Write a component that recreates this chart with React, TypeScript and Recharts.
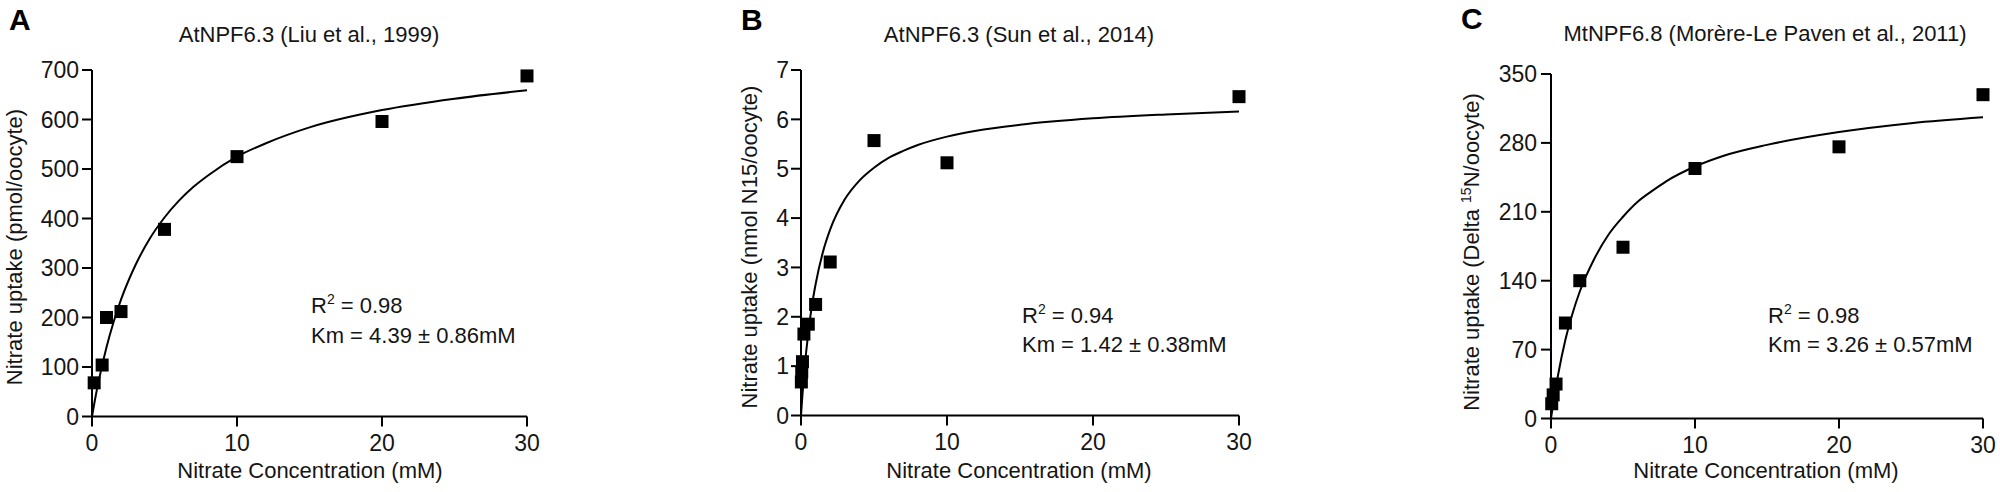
import React from 'react';
import { ComposedChart, Line, Scatter, XAxis, YAxis } from 'recharts';

// ---------- Data ----------
const xTicks = [0, 10, 20, 30];

// Panel A: AtNPF6.3 (Liu et al., 1999)
const aTicksY = [0, 100, 200, 300, 400, 500, 600, 700];
const aPoints = [
  { x: 0.15, y: 68 },
  { x: 0.7, y: 104 },
  { x: 1, y: 200 },
  { x: 2, y: 212 },
  { x: 5, y: 378 },
  { x: 10, y: 525 },
  { x: 20, y: 596 },
  { x: 30, y: 688 },
];
const aCurve = [
  { x: 0, y: 0 }, { x: 0.25, y: 41 }, { x: 0.5, y: 77 }, { x: 1, y: 140 },
  { x: 1.5, y: 192 }, { x: 2, y: 236 }, { x: 3, y: 306 }, { x: 4, y: 360 },
  { x: 5, y: 402 }, { x: 6, y: 436 }, { x: 7, y: 464 }, { x: 8, y: 487 },
  { x: 10, y: 525 }, { x: 12, y: 552 }, { x: 15, y: 584 }, { x: 20, y: 619 },
  { x: 25, y: 642 }, { x: 30, y: 659 },
];

// Panel B: AtNPF6.3 (Sun et al., 2014)
const bTicksY = [0, 1, 2, 3, 4, 5, 6, 7];
const bPoints = [
  { x: 0.025, y: 0.68 },
  { x: 0.05, y: 0.88 },
  { x: 0.1, y: 1.09 },
  { x: 0.2, y: 1.65 },
  { x: 0.5, y: 1.85 },
  { x: 1, y: 2.25 },
  { x: 2, y: 3.11 },
  { x: 5, y: 5.57 },
  { x: 10, y: 5.12 },
  { x: 30, y: 6.46 },
];
const bCurve = [
  { x: 0, y: 0 }, { x: 0.1, y: 0.42 }, { x: 0.25, y: 0.97 }, { x: 0.5, y: 1.68 },
  { x: 0.75, y: 2.23 }, { x: 1, y: 2.66 }, { x: 1.5, y: 3.31 }, { x: 2, y: 3.77 },
  { x: 3, y: 4.38 }, { x: 4, y: 4.76 }, { x: 5, y: 5.02 }, { x: 6, y: 5.22 },
  { x: 7, y: 5.36 }, { x: 8, y: 5.48 }, { x: 10, y: 5.65 }, { x: 12, y: 5.77 },
  { x: 15, y: 5.89 }, { x: 20, y: 6.02 }, { x: 25, y: 6.1 }, { x: 30, y: 6.16 },
];

// Panel C: MtNPF6.8 (Morère-Le Paven et al., 2011)
const cTicksY = [0, 70, 140, 210, 280, 350];
const cPoints = [
  { x: 0.05, y: 15 },
  { x: 0.15, y: 24 },
  { x: 0.35, y: 35 },
  { x: 1, y: 97 },
  { x: 2, y: 140 },
  { x: 5, y: 174 },
  { x: 10, y: 254 },
  { x: 20, y: 276 },
  { x: 30, y: 329 },
];
const cCurve = [
  { x: 0, y: 0 }, { x: 0.25, y: 24 }, { x: 0.5, y: 45 }, { x: 1, y: 80 },
  { x: 1.5, y: 107 }, { x: 2, y: 129 }, { x: 3, y: 162 }, { x: 4, y: 187 },
  { x: 5, y: 205 }, { x: 6, y: 220 }, { x: 7, y: 231 }, { x: 8, y: 241 },
  { x: 10, y: 256 }, { x: 12, y: 267 }, { x: 15, y: 278 }, { x: 20, y: 291 },
  { x: 25, y: 300 }, { x: 30, y: 306 },
];

// ---------- Styling ----------
const FONT = '"Liberation Sans", Arial, Helvetica, sans-serif';
const TEXT = '#151515';
const INK = '#000';

const SquareShape = (props: any) => {
  const { cx, cy } = props;
  if (cx == null || cy == null) return null;
  return <rect x={cx - 6.5} y={cy - 6.5} width={13} height={13} fill={INK} />;
};

type PanelProps = {
  left: number;
  width: number;
  margin: { top: number; right: number; bottom: number; left: number };
  yTicks: number[];
  yMax: number;
  points: { x: number; y: number }[];
  curve: { x: number; y: number }[];
  yTickMargin: number;
};

const Panel = ({ left, width, margin, yTicks, yMax, points, curve, yTickMargin }: PanelProps) => (
  <div style={{ position: 'absolute', left, top: 0, width, height: 492 }}>
    <ComposedChart width={width} height={492} margin={margin}>
      <XAxis
        type="number"
        dataKey="x"
        domain={[0, 30]}
        ticks={xTicks}
        interval={0}
        height={60}
        tickSize={10}
        tickMargin={8}
        axisLine={{ stroke: INK, strokeWidth: 2 }}
        tickLine={{ stroke: INK, strokeWidth: 2 }}
        tick={{ fill: TEXT, fontSize: 23, fontFamily: FONT }}
      />
      <YAxis
        type="number"
        dataKey="y"
        domain={[0, yMax]}
        ticks={yTicks}
        interval={0}
        width={60}
        tickSize={10}
        tickMargin={yTickMargin}
        axisLine={{ stroke: INK, strokeWidth: 2 }}
        tickLine={{ stroke: INK, strokeWidth: 2 }}
        tick={{ fill: TEXT, fontSize: 23, fontFamily: FONT }}
      />
      <Line
        data={curve}
        dataKey="y"
        type="monotone"
        stroke={INK}
        strokeWidth={2}
        dot={false}
        activeDot={false}
        isAnimationActive={false}
      />
      <Scatter data={points} dataKey="y" shape={SquareShape} isAnimationActive={false} />
    </ComposedChart>
  </div>
);

const textStyle = { fontFamily: FONT, fill: TEXT } as const;

const Overlay = () => (
  <svg
    width={2000}
    height={492}
    style={{ position: 'absolute', left: 0, top: 0, pointerEvents: 'none' }}
  >
    {/* panel letters */}
    <text x={9} y={30} fontSize={30} fontWeight="bold" style={{ ...textStyle, fill: '#000' }}>A</text>
    <text x={741} y={30} fontSize={30} fontWeight="bold" style={{ ...textStyle, fill: '#000' }}>B</text>
    <text x={1461} y={29} fontSize={30} fontWeight="bold" style={{ ...textStyle, fill: '#000' }}>C</text>

    {/* titles */}
    <text x={309} y={42} fontSize={22} textAnchor="middle" style={textStyle}>AtNPF6.3 (Liu et al., 1999)</text>
    <text x={1019} y={42} fontSize={22} textAnchor="middle" style={textStyle}>AtNPF6.3 (Sun et al., 2014)</text>
    <text x={1765} y={41} fontSize={22} textAnchor="middle" style={textStyle}>MtNPF6.8 (Morère-Le Paven et al., 2011)</text>

    {/* x-axis titles */}
    <text x={310} y={478} fontSize={22} textAnchor="middle" style={textStyle}>Nitrate Concentration (mM)</text>
    <text x={1019} y={478} fontSize={22} textAnchor="middle" style={textStyle}>Nitrate Concentration (mM)</text>
    <text x={1766} y={478} fontSize={22} textAnchor="middle" style={textStyle}>Nitrate Concentration (mM)</text>

    {/* y-axis titles */}
    <text transform="translate(22,247) rotate(-90)" fontSize={22} textAnchor="middle" style={textStyle}>
      Nitrate uptake (pmol/oocyte)
    </text>
    <text transform="translate(757,247) rotate(-90)" fontSize={22} textAnchor="middle" style={textStyle}>
      Nitrate uptake (nmol N15/oocyte)
    </text>
    <text transform="translate(1479,252) rotate(-90)" fontSize={22} textAnchor="middle" style={textStyle}>
      Nitrate uptake (Delta <tspan dy={-8} fontSize={14}>15</tspan><tspan dy={8}>N/oocyte)</tspan>
    </text>

    {/* annotations */}
    <text x={311} y={313} fontSize={22} style={textStyle}>
      R<tspan dy={-9} fontSize={14}>2</tspan><tspan dy={9}> = 0.98</tspan>
    </text>
    <text x={311} y={343} fontSize={22} style={textStyle}>Km = 4.39 ± 0.86mM</text>

    <text x={1022} y={323} fontSize={22} style={textStyle}>
      R<tspan dy={-9} fontSize={14}>2</tspan><tspan dy={9}> = 0.94</tspan>
    </text>
    <text x={1022} y={352} fontSize={22} style={textStyle}>Km = 1.42 ± 0.38mM</text>

    <text x={1768} y={323} fontSize={22} style={textStyle}>
      R<tspan dy={-9} fontSize={14}>2</tspan><tspan dy={9}> = 0.98</tspan>
    </text>
    <text x={1768} y={352} fontSize={22} style={textStyle}>Km = 3.26 ± 0.57mM</text>
  </svg>
);

export default function App() {
  return (
    <div
      style={{
        position: 'absolute',
        left: 0,
        top: 0,
        width: 2000,
        height: 492,
        background: '#fff',
        overflow: 'hidden',
      }}
    >
      <Panel
        left={0}
        width={660}
        margin={{ top: 70, right: 133, bottom: 15.5, left: 32 }}
        yTicks={aTicksY}
        yMax={700}
        points={aPoints}
        curve={aCurve}
        yTickMargin={3}
      />
      <Panel
        left={660}
        width={670}
        margin={{ top: 70, right: 91, bottom: 16.5, left: 81 }}
        yTicks={bTicksY}
        yMax={7}
        points={bPoints}
        curve={bCurve}
        yTickMargin={2}
      />
      <Panel
        left={1330}
        width={670}
        margin={{ top: 74, right: 17, bottom: 13.5, left: 161 }}
        yTicks={cTicksY}
        yMax={350}
        points={cPoints}
        curve={cCurve}
        yTickMargin={4}
      />
      <Overlay />
    </div>
  );
}
